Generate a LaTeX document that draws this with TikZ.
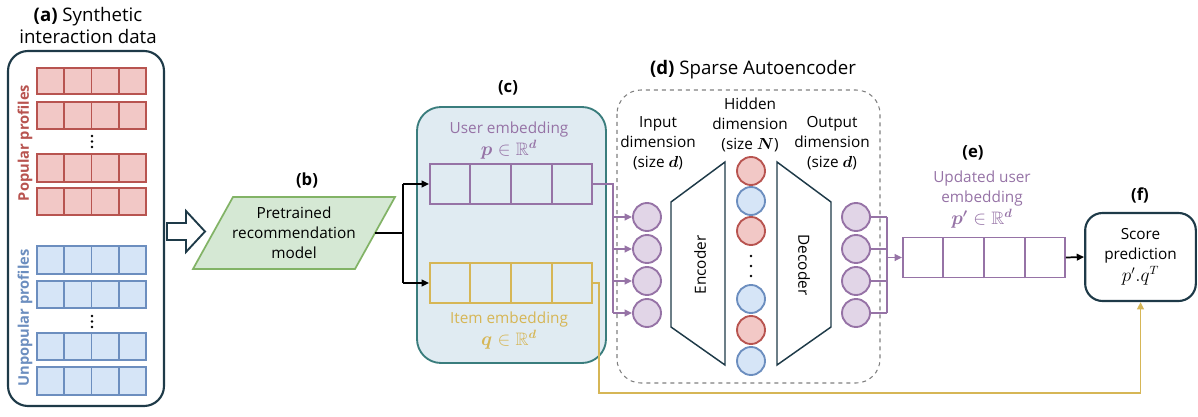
\documentclass[tikz,border=0pt]{standalone}
\usepackage{fontspec}
\setmainfont{Open Sans}
\usepackage{amsmath,amssymb,bm}
\usetikzlibrary{arrows.meta,calc}
\definecolor{darkc}{HTML}{1E3A48}
\definecolor{redf}{HTML}{F2C8C6}
\definecolor{redd}{HTML}{B85450}
\definecolor{bluef}{HTML}{D6E5F7}
\definecolor{blued}{HTML}{6C8EBF}
\definecolor{greenf}{HTML}{D5E8D4}
\definecolor{greend}{HTML}{82B366}
\definecolor{purf}{HTML}{E1D5E7}
\definecolor{purd}{HTML}{9673A6}
\definecolor{goldd}{HTML}{D6B656}
\definecolor{cfill}{HTML}{E0EBF2}
\definecolor{cdraw}{HTML}{3A7D7D}
\newcommand{\mth}[1]{{\fontsize{13.5}{15}\selectfont$#1$}}
\begin{document}
\begin{tikzpicture}[x=0.75pt,y=-0.75pt,
  txt/.style={font=\fontsize{11.5}{15}\selectfont, align=center, inner sep=0pt},
  ttl/.style={font=\fontsize{14}{16.5}\selectfont, align=center, inner sep=0pt},
  lbl/.style={font=\fontsize{12.5}{14}\bfseries\selectfont, inner sep=0pt},
  cell/.style={line width=1.35pt},
  emb/.style={minimum width=121.5pt, minimum height=30pt, inner sep=0pt, line width=1.4pt, draw},
  circ/.style={circle, minimum size=21pt, inner sep=0pt, line width=1.4pt, draw},
  tip/.style={-{Triangle[length=5.5pt,width=5pt]}},
  bigbox/.style={rounded corners=15pt, line width=1.6pt, draw=darkc}
]
\useasboundingbox (0,0) rectangle (1198,417);

% ---------- (a) ----------
\node[ttl] (ta) at (88,26) {\textbf{(a)} Synthetic\\interaction data};
\draw[bigbox] (8,51) rectangle (164,406);
\foreach \y/\h in {68/94,102/129,154/182,188/215}{
  \foreach \x in {37,64.25,91.5,118.75}{
    \draw[cell, fill=redf, draw=redd] (\x,\y) rectangle ++(27.25,\h-\y);
  }
}
\foreach \y/\h in {246/274,281/308,333/360,367/395}{
  \foreach \x in {37,64.25,91.5,118.75}{
    \draw[cell, fill=bluef, draw=blued] (\x,\y) rectangle ++(27.25,\h-\y);
  }
}
\foreach \y in {136,141.5,147}{\fill (92,\y) circle (1.4);}
\foreach \y in {316,321.5,327}{\fill (92,\y) circle (1.4);}
\node[rotate=90, text=redd, font=\fontsize{11}{12}\bfseries\selectfont, inner sep=0pt] (pop) at (25,143) {Popular profiles};
\node[rotate=90, text=blued, font=\fontsize{11}{12}\bfseries\selectfont, inner sep=0pt] (unpop) at (25,318) {Unpopular profiles};

% block arrow
\draw[line width=1.4pt, draw=darkc, fill=white] (167,223) -- (186,223) -- (186,211) -- (205,231.5) -- (186,252) -- (186,240) -- (167,240) -- cycle;

% ---------- (b) ----------
\node[lbl] (lb) at (307,180) {(b)};
\draw[line width=1.3pt, draw=greend, fill=greenf] (233,197) -- (395,197) -- (355,269) -- (193,269) -- cycle;
\node[txt] (pre) at (294,233) {Pretrained\\recommendation\\model};
\coordinate (preR) at (375,233);
\coordinate (pbus) at (403,233);

% ---------- (c) ----------
\node[lbl] (lc) at (508,88) {(c)};
\draw[rounded corners=18pt, line width=1.4pt, draw=cdraw, fill=cfill] (417,107) rectangle (606,363);
\node[txt, text=purd] (uet) at (509,141) {User embedding\\[1.5pt]\mth{\bm{p}\in\mathbb{R}^{\bm{d}}}};
\node[emb, draw=purd] (ue) at (511,184) {};
\foreach \i in {1,2,3}{\draw[purd, line width=1.4pt] ($(ue.south west)!\i/4!(ue.south east)$) -- ($(ue.north west)!\i/4!(ue.north east)$);}
\node[emb, draw=goldd] (ie) at (511,283) {};
\foreach \i in {1,2,3}{\draw[goldd, line width=1.4pt] ($(ie.south west)!\i/4!(ie.south east)$) -- ($(ie.north west)!\i/4!(ie.north east)$);}
\node[txt, text=goldd] (iet) at (509,331) {Item embedding\\[1.5pt]\mth{\bm{q}\in\mathbb{R}^{\bm{d}}}};

\draw[line width=1.3pt] (preR) -- (pbus);
\draw[line width=1.3pt] (pbus |- ue.west) -- (pbus |- ie.west);
\draw[line width=1.3pt, tip] (pbus |- ue.west) -- (ue.west);
\draw[line width=1.3pt, tip] (pbus |- ie.west) -- (ie.west);

% ---------- (d) ----------
\node[ttl] (ld) at (753,70) {\textbf{(d)} Sparse Autoencoder};
\draw[dashed, draw=gray, line width=0.8pt, rounded corners=18pt] (617,90) rectangle (880,383);
\node[txt] (idim) at (658,143) {Input\\dimension\\(size $\bm{d}$)};
\node[txt] (hdim) at (750,125) {Hidden\\dimension\\(size $\bm{N}$)};
\node[txt] (odim) at (832,143) {Output\\dimension\\(size $\bm{d}$)};

\foreach \n/\y in {1/217,2/249,3/281,4/313}{
  \node[circ, fill=purf, draw=purd] (in\n) at (647,\y) {};
  \node[circ, fill=purf, draw=purd] (out\n) at (856,\y) {};
}
\draw[line width=1.1pt, draw=darkc, fill=white] (671,202) -- (725,162) -- (725,365) -- (671,327) -- cycle;
\draw[line width=1.1pt, draw=darkc, fill=white] (777,162) -- (831,202) -- (831,327) -- (777,365) -- cycle;
\node[txt, rotate=90] (enc) at (700,265) {Encoder};
\node[txt, rotate=-90] (dec) at (804,265) {Decoder};

\foreach \n/\y/\f/\d in {1/171/redf/redd,2/201/bluef/blued,3/231/redf/redd,4/299/bluef/blued,5/330/redf/redd,6/361/bluef/blued}{
  \node[circ, fill=\f, draw=\d] (h\n) at (751,\y) {};
}
\foreach \y in {256,266,276}{\fill (751,\y) circle (1.4);}

% purple input bus
\coordinate (ibus) at (613,184);
\draw[purd, line width=1.4pt] (ue.east) -- (ibus) -- (ibus |- in4.west);
\foreach \n in {1,2,3,4}{\draw[purd, line width=1.4pt, tip] (ibus |- in\n.west) -- (in\n.west);}

% ---------- (e) ----------
\node[lbl] (le) at (973,153) {(e)};
\node[txt, text=purd] (updt) at (982,200) {Updated user\\embedding\\[1.5pt]\mth{\bm{p'}\in\mathbb{R}^{\bm{d}}}};
\node[emb, draw=purd] (upd) at (984,257.5) {};
\foreach \i in {1,2,3}{\draw[purd, line width=1.4pt] ($(upd.south west)!\i/4!(upd.south east)$) -- ($(upd.north west)!\i/4!(upd.north east)$);}

% purple output bus
\coordinate (obus) at (887,258);
\foreach \n in {1,2,3,4}{\draw[purd, line width=1.4pt] (out\n.east) -- (obus |- out\n.east);}
\draw[purd, line width=1.4pt] (obus |- out1.east) -- (obus |- out4.east);
\draw[purd, line width=1.4pt, tip] (obus |- upd.west) -- (upd.west);

% ---------- (f) ----------
\node[lbl] (lf) at (1140,195) {(f)};
\node[bigbox, rounded corners=13pt, minimum width=83pt, minimum height=66pt, txt] (score) at (1140.5,257) {Score\\prediction\\[1.5pt]\mth{p'.q^T}};
\draw[line width=1.3pt, tip] (upd.east) -- (score.west);

% gold connector
\coordinate (g1) at (599,393);
\draw[goldd, line width=1.4pt, tip] (ie.east) -| (g1) -| (score.south);
\end{tikzpicture}
\end{document}
